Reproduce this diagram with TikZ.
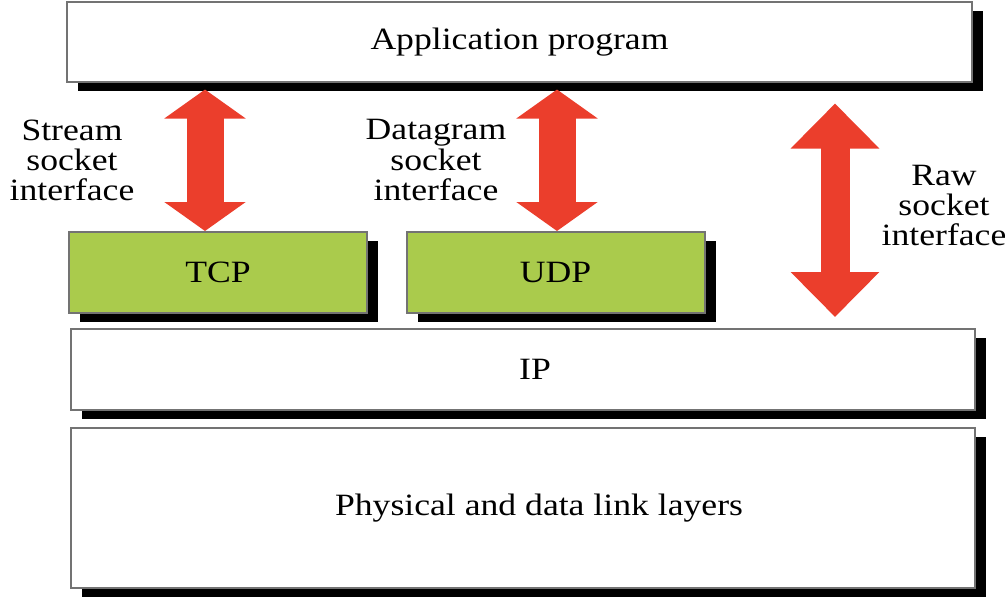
\documentclass[tikz,border=0pt]{standalone}
\usepackage{fontspec}
\setmainfont{Liberation Serif}[FakeStretch=1.15]
\usetikzlibrary{arrows.meta,shadows}
\definecolor{sockred}{RGB}{235,62,44}
\definecolor{protogreen}{RGB}{170,203,76}
\begin{document}
\begin{tikzpicture}[x=0.5pt, y=-0.5pt,
                    every node/.style={font=\fontsize{15.5}{15}\selectfont},
                    layer box/.style={rectangle, draw=black!55, line width=1pt, fill=white, inner sep=0pt,
                      drop shadow={shadow xshift=5.5pt, shadow yshift=-4.5pt, fill=black, opacity=1}},
                    proto box/.style={layer box, fill=protogreen, minimum width=149pt, minimum height=40.5pt},
                    sock arrow/.style={sockred, line width=18.5pt,
                      {Triangle[length=14.5pt,width=40pt]}-{Triangle[length=14.5pt,width=40pt]}},
                    sock label/.style={align=center, inner sep=0pt}]

\useasboundingbox (0,0) rectangle (1005,599);

\node[layer box, minimum width=452.5pt, minimum height=40pt] (app) at (519.5,42.5) {Application program};
\node[proto box] (tcp) at (218,272.5) {TCP};
\node[proto box] (udp) at (555.5,272.5) {UDP};
\node[layer box, minimum width=452pt, minimum height=40.5pt] (ip) at (523,369.5) {\hspace*{12pt}IP};
\node[layer box, minimum width=452pt, minimum height=80pt] (phys) at (523,508) {\hspace*{16pt}Physical and data link layers};

\coordinate (stream) at (205,0);
\coordinate (dgram) at (557,0);
\coordinate (raw) at (835,0);

\node[sock label] (streamlbl) at (72,160) {Stream\\socket\\interface};
\node[sock label] (dgramlbl) at (436,160) {Datagram\\socket\\interface};
\node[sock label] (rawlbl) at (944,205) {Raw\\socket\\interface};

\draw[sock arrow, shorten <=3pt] (app.south -| stream) -- (tcp.north -| stream);
\draw[sock arrow, shorten <=3pt] (app.south -| dgram) -- (udp.north -| dgram);
\draw[sock arrow, line width=14.5pt, {Triangle[length=22.5pt,width=43pt]}-{Triangle[length=22.5pt,width=43pt]},
      shorten <=10pt, shorten >=5.5pt] (app.south -| raw) -- (ip.north -| raw);

\end{tikzpicture}
\end{document}
